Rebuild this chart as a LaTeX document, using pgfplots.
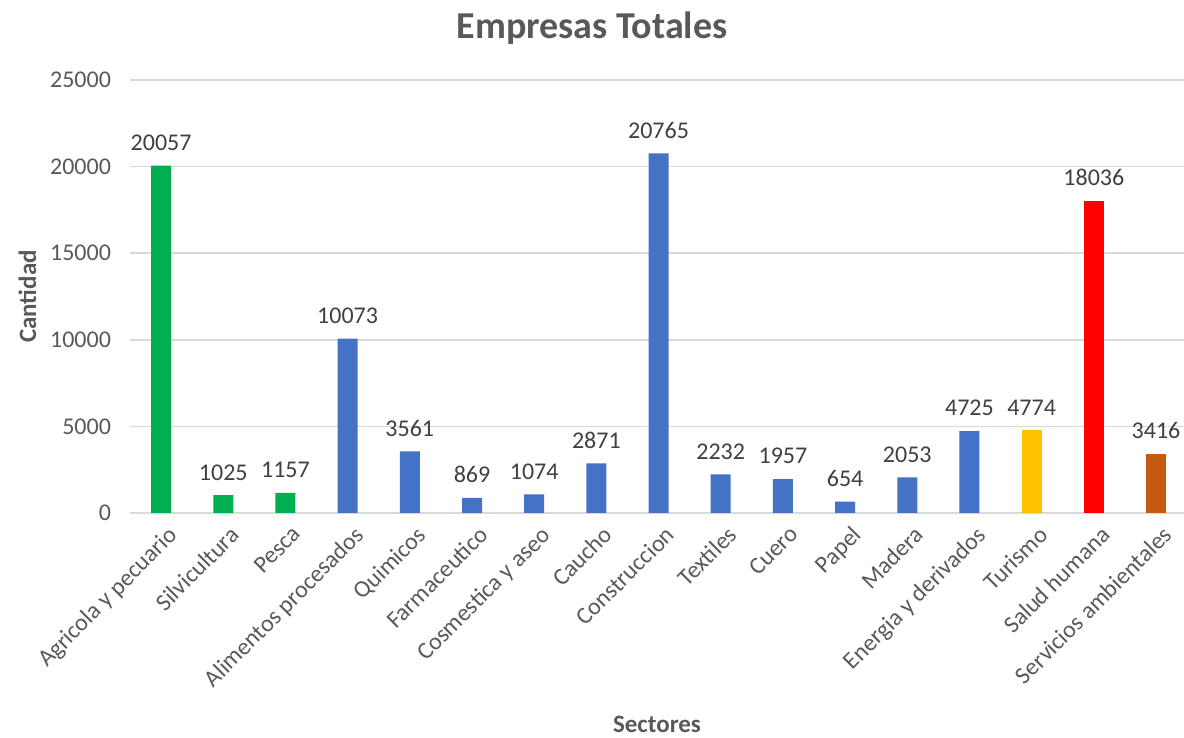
\documentclass[border=0pt]{standalone}
\usepackage{pgfplots}
\pgfplotsset{compat=1.18}
\usepackage{fontspec}
\setmainfont{Carlito}

\definecolor{cgreen}{HTML}{00B050}
\definecolor{cblue}{HTML}{4472C4}
\definecolor{cyellow}{HTML}{FFC000}
\definecolor{cred}{HTML}{FF0000}
\definecolor{corange}{HTML}{C55A11}
\definecolor{txt}{HTML}{595959}
\definecolor{lbl}{HTML}{404040}
\definecolor{gridc}{HTML}{D9D9D9}

\begin{document}
\begin{tikzpicture}
\useasboundingbox (-65pt,-112.5pt) rectangle (527pt,256.5pt);
\begin{axis}[
    at={(0,0)}, anchor=south west,
    scale only axis,
    width=527pt, height=216.5pt,
    xmin=-0.5, xmax=16.45,
    ymin=0, ymax=25000,
    ytick={0,5000,...,25000},
    xtick={0,...,16},
    xticklabels={Agricola y pecuario, Silvicultura, Pesca, Alimentos procesados,
        Quimicos, Farmaceutico, Cosmestica y aseo, Caucho, Construccion, Textiles,
        Cuero, Papel, Madera, Energia y derivados, Turismo, Salud humana,
        Servicios ambientales},
    x tick label style={rotate=45, anchor=north east, inner sep=2pt, yshift=-4pt},
    ticklabel style={font=\fontsize{12}{14}\selectfont, text=txt},
    /pgf/number format/assume math mode=true,
    scaled y ticks=false,
    y tick label style={/pgf/number format/1000 sep={}, xshift=-6pt},
    major tick length=0pt,
    xmajorgrids=false,
    ymajorgrids=true,
    major grid style={draw=gridc, line width=0.75pt},
    axis line style={draw=none},
    ybar, bar width=10pt, bar shift=0pt,
    nodes near coords,
    nodes near coords style={font=\fontsize{12}{14}\selectfont, text=lbl,
        /pgf/number format/1000 sep={}, yshift=4pt},
    title={Empresas Totales},
    title style={font=\fontsize{19}{22}\selectfont\bfseries, text=txt,
        yshift=8pt, xshift=-32.5pt},
    xlabel={Sectores},
    ylabel={Cantidad},
    label style={font=\fontsize{12.5}{15}\selectfont\bfseries, text=txt},
    ylabel style={yshift=0pt},
    xlabel style={yshift=-6pt},
]
\addplot[fill=cgreen, draw=none] coordinates {(0,20057) (1,1025) (2,1157)};
\addplot[fill=cblue, draw=none] coordinates {(3,10073) (4,3561) (5,869) (6,1074)
    (7,2871) (8,20765) (9,2232) (10,1957) (11,654) (12,2053) (13,4725)};
\addplot[fill=cyellow, draw=none] coordinates {(14,4774)};
\addplot[fill=cred, draw=none] coordinates {(15,18036)};
\addplot[fill=corange, draw=none] coordinates {(16,3416)};
\end{axis}
\end{tikzpicture}
\end{document}
